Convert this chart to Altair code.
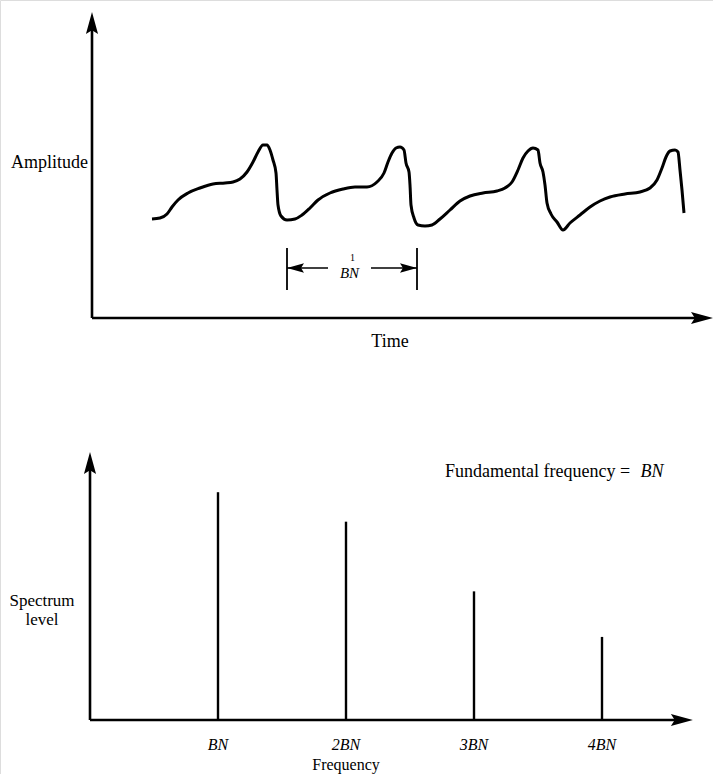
import altair as alt
import pandas as pd

# ---------------- data ----------------
# Top panel: periodic waveform (time units, amplitude units)
wave_t = [6.0, 6.8, 7.5, 8.0, 8.6, 9.6, 10.8, 12.1, 13.3, 14.1, 14.8, 15.5, 16.1, 16.6, 17.1, 17.5,
          17.8, 18.1, 18.4, 18.5, 18.6, 18.9, 19.5, 20.3, 21.0, 21.8, 22.6, 23.8, 25.1, 26.3, 27.5,
          28.5, 29.2, 29.6, 30.0, 30.4, 30.8, 31.2, 31.4, 31.7, 31.8, 31.9, 32.2, 32.6, 33.3, 34.0,
          34.8, 35.8, 36.8, 37.8, 39.1, 40.5, 41.3, 42.0, 42.6, 43.1, 43.6, 44.1, 44.6, 44.8, 45.1,
          45.3, 45.5, 45.9, 46.5, 47.1, 47.8, 48.8, 49.8, 50.8, 51.8, 53.3, 54.8, 55.8, 56.5, 57.0,
          57.4, 57.8, 58.3, 58.6, 58.8, 59.0, 59.2]
wave_a = [9.9, 10.0, 10.4, 11.1, 11.8, 12.5, 13.0, 13.4, 13.5, 13.6, 13.9, 14.6, 15.6, 16.6, 17.3, 17.3,
          16.8, 15.8, 14.5, 12.8, 11.3, 10.2, 9.8, 9.9, 10.3, 11.0, 11.8, 12.5, 12.9, 13.1, 13.1,
          13.6, 14.5, 15.6, 16.5, 17.0, 17.1, 16.8, 15.5, 14.6, 13.3, 11.3, 10.0, 9.3, 9.2, 9.3,
          9.9, 10.8, 11.7, 12.2, 12.5, 12.7, 13.0, 13.6, 14.8, 16.0, 16.7, 17.0, 16.8, 15.5, 14.6,
          13.3, 11.5, 10.4, 9.6, 8.8, 9.5, 10.3, 11.1, 11.7, 12.1, 12.4, 12.6, 13.0, 13.8, 15.0,
          16.1, 16.7, 16.8, 16.6, 14.8, 12.8, 10.5]

# Period marker (one period = 1/BN)
marker_t = [19.5, 32.5]
marker_lo, marker_hi, marker_a = 2.8, 7.0, 5.0
shaft_left = [19.5, 23.6]
shaft_right = [27.9, 32.5]
t_axis_end, a_axis_end = 62.1, 30.6

# Bottom panel: line spectrum (harmonics of BN)
harm_f = [1, 2, 3, 4]
harm_level = [8.5, 7.4, 4.8, 3.1]
harm_label = ["BN", "2BN", "3BN", "4BN"]
f_axis_end, l_axis_end = 4.71, 10.0

# ---------------- geometry (canvas pixels) ----------------
W, H = 713, 774
TOP_X0, TOP_Y0, PX_T, PX_A = 92, 318, 10.0, 10.0
BOT_X0, BOT_Y0, PX_F, PX_L = 90, 720, 128.0, 26.8

T_DOM = [-TOP_X0 / PX_T, (W - TOP_X0) / PX_T]
A_DOM = [(TOP_Y0 - H) / PX_A, TOP_Y0 / PX_A]
F_DOM = [-BOT_X0 / PX_F, (W - BOT_X0) / PX_F]
L_DOM = [(BOT_Y0 - H) / PX_L, BOT_Y0 / PX_L]

FONT = "Liberation Serif"
FS = 18
ARROW = "M0,-1L0.55,1L0,0.65L-0.55,1Z"
AX_HEAD = 22
MK_HEAD = 17


def sc(dom):
    return alt.Scale(domain=dom, nice=False, zero=False)


tx = lambda f="t": alt.X(f"{f}:Q", scale=sc(T_DOM), axis=None)
ay = lambda f="a": alt.Y(f"{f}:Q", scale=sc(A_DOM), axis=None)
fx = lambda f="f": alt.X(f"{f}:Q", scale=sc(F_DOM), axis=None)
ly = lambda f="l": alt.Y(f"{f}:Q", scale=sc(L_DOM), axis=None)


def head(df, angle, size, xenc, yenc):
    kw = dict(shape=ARROW, size=size ** 2, filled=True, color="black", opacity=1, strokeWidth=0)
    if angle:
        kw["angle"] = angle
    return alt.Chart(df).mark_point(**kw).encode(x=xenc, y=yenc)


def label(df, xenc, yenc, **kw):
    base = dict(font=FONT, fontSize=FS, color="black")
    base.update(kw)
    return alt.Chart(df).mark_text(**base).encode(x=xenc, y=yenc, text="s:N")


# ---------------- top panel ----------------
wave_df = pd.DataFrame({"t": wave_t, "a": wave_a})
wave = alt.Chart(wave_df).mark_line(color="black", strokeWidth=3, interpolate="monotone").encode(
    x=tx(), y=ay())

top_axes_df = pd.DataFrame({"t": [0, 0], "a": [0, 0],
                            "t2": [0, t_axis_end - AX_HEAD / PX_T * 0.6],
                            "a2": [a_axis_end - AX_HEAD / PX_A * 0.6, 0]})
top_axes = alt.Chart(top_axes_df).mark_rule(color="black", strokeWidth=2.6).encode(
    x=tx(), y=ay(), x2="t2:Q", y2="a2:Q")
top_up = head(pd.DataFrame({"t": [0], "a": [a_axis_end - AX_HEAD / 2 / PX_A]}), 0, AX_HEAD, tx(), ay())
top_right = head(pd.DataFrame({"t": [t_axis_end - AX_HEAD / 2 / PX_T], "a": [0]}), 90, AX_HEAD, tx(), ay())

marker_df = pd.DataFrame({"t": marker_t, "a": [marker_lo] * 2, "a2": [marker_hi] * 2})
markers = alt.Chart(marker_df).mark_rule(color="black", strokeWidth=1.8).encode(x=tx(), y=ay(), y2="a2:Q")

shaft_df = pd.DataFrame({"t": [shaft_left[0], shaft_right[0]], "t2": [shaft_left[1], shaft_right[1]],
                         "a": [marker_a] * 2})
shafts = alt.Chart(shaft_df).mark_rule(color="black", strokeWidth=1.6).encode(x=tx(), x2="t2:Q", y=ay())
head_l = head(pd.DataFrame({"t": [marker_t[0] + MK_HEAD / 2 / PX_T], "a": [marker_a]}), 270, MK_HEAD, tx(), ay())
head_r = head(pd.DataFrame({"t": [marker_t[1] - MK_HEAD / 2 / PX_T], "a": [marker_a]}), 90, MK_HEAD, tx(), ay())

mid_t = (shaft_left[1] + shaft_right[0]) / 2
frac_one = label(pd.DataFrame({"t": [mid_t + 0.3], "a": [marker_a], "s": ["1"]}), tx(), ay(),
                 fontSize=10, dy=-10)
frac_bn = label(pd.DataFrame({"t": [mid_t], "a": [marker_a], "s": ["BN"]}), tx(), ay(),
                fontSize=15, fontStyle="italic", dy=5)

amp_lbl = label(pd.DataFrame({"t": [-0.4], "a": [15.5], "s": ["Amplitude"]}), tx(), ay(),
                align="right", baseline="middle")
time_lbl = label(pd.DataFrame({"t": [29.8], "a": [0], "s": ["Time"]}), tx(), ay(), dy=24)

top = alt.layer(top_axes, top_up, top_right, wave, markers, shafts, head_l, head_r,
                frac_one, frac_bn, amp_lbl, time_lbl)

# ---------------- bottom panel ----------------
bot_axes_df = pd.DataFrame({"f": [0, 0], "l": [0, 0],
                            "f2": [0, f_axis_end - AX_HEAD / PX_F * 0.6],
                            "l2": [l_axis_end - AX_HEAD / PX_L * 0.6, 0]})
bot_axes = alt.Chart(bot_axes_df).mark_rule(color="black", strokeWidth=2.6).encode(
    x=fx(), y=ly(), x2="f2:Q", y2="l2:Q")
bot_up = head(pd.DataFrame({"f": [0], "l": [l_axis_end - AX_HEAD / 2 / PX_L]}), 0, AX_HEAD, fx(), ly())
bot_right = head(pd.DataFrame({"f": [f_axis_end - AX_HEAD / 2 / PX_F], "l": [0]}), 90, AX_HEAD, fx(), ly())

spec_df = pd.DataFrame({"f": harm_f, "l": [0] * 4, "l2": harm_level, "s": harm_label})
spec = alt.Chart(spec_df).mark_rule(color="black", strokeWidth=2.4).encode(x=fx(), y=ly(), y2="l2:Q")
spec_lbl = label(spec_df, fx(), ly(), fontSize=16, fontStyle="italic", dy=25)

freq_lbl = label(pd.DataFrame({"f": [2.0], "l": [0], "s": ["Frequency"]}), fx(), ly(), fontSize=16, dy=45)
spec_y1 = label(pd.DataFrame({"f": [-0.375], "l": [4.43], "s": ["Spectrum"]}), fx(), ly(),
                fontSize=17, baseline="middle")
spec_y2 = label(pd.DataFrame({"f": [-0.375], "l": [3.74], "s": ["level"]}), fx(), ly(),
                fontSize=17, baseline="middle")
fund1 = label(pd.DataFrame({"f": [4.22], "l": [9.25], "s": ["Fundamental frequency ="]}), fx(), ly(),
              align="right", baseline="middle")
fund2 = label(pd.DataFrame({"f": [4.30], "l": [9.25], "s": ["BN"]}), fx(), ly(),
              fontStyle="italic", align="left", baseline="middle")

bottom = alt.layer(bot_axes, bot_up, bot_right, spec, spec_lbl, freq_lbl, spec_y1, spec_y2, fund1, fund2)

chart = alt.layer(top, bottom).resolve_scale(x="independent", y="independent").properties(
    width=W, height=H,
    autosize=alt.AutoSizeParams(type="none"),
    padding=0,
).configure_view(strokeWidth=0).configure(background="white")

chart.save("out.html", embed_options={"renderer": "svg", "actions": False})
